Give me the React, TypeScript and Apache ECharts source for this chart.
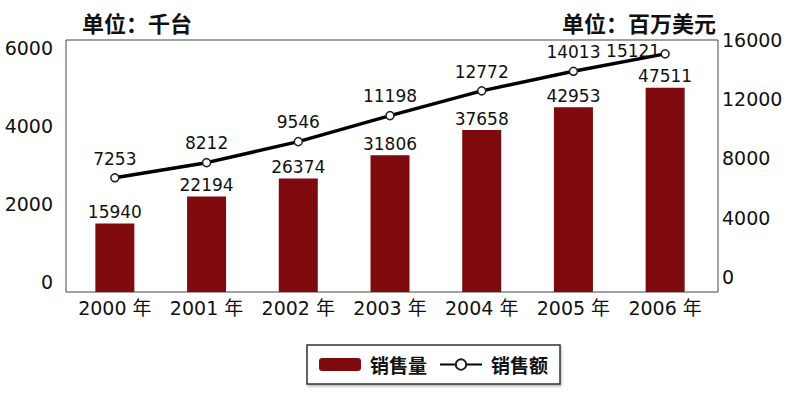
import React, { useEffect, useRef } from "react";
import * as echarts from "echarts";

const categories = ["2000 年", "2001 年", "2002 年", "2003 年", "2004 年", "2005 年", "2006 年"];
const salesVolume = [15940, 22194, 26374, 31806, 37658, 42953, 47511];
const salesAmount = [7253, 8212, 9546, 11198, 12772, 14013, 15121];
const leftTicks = [0, 2000, 4000, 6000];
const rightTicks = [0, 4000, 8000, 12000, 16000];

const NUM_FONT = '"DejaVu Sans", "Noto Sans CJK SC", sans-serif';
const CJK_FONT = '"Noto Sans CJK SC", "DejaVu Sans", sans-serif';

export default function App() {
  const ref = useRef<HTMLDivElement>(null);
  useEffect(() => {
    document.body.style.margin = "0";
    if (!ref.current) return;
    const chart = echarts.init(ref.current, null, { renderer: "svg" });
    const lineData = salesAmount.map((v, i) =>
      i === salesAmount.length - 1 ? { value: v, label: { offset: [-32, 16] } } : v
    );
    const plain = (v: number) => String(v);
    chart.setOption({
      animation: false,
      backgroundColor: "#fff",
      title: [
        {
          text: "单位：千台",
          left: 77,
          top: 6,
          textStyle: { fontFamily: CJK_FONT, fontSize: 22, fontWeight: "bold", color: "#111" },
        },
        {
          text: "单位：百万美元",
          left: 557,
          top: 6,
          textStyle: { fontFamily: CJK_FONT, fontSize: 22, fontWeight: "bold", color: "#111" },
        },
      ],
      legend: {
        left: 307,
        top: 345,
        padding: [10, 12],
        borderColor: "#333",
        borderWidth: 1.5,
        shadowColor: "rgba(0,0,0,0.25)",
        shadowBlur: 2,
        shadowOffsetX: 1,
        shadowOffsetY: 2,
        backgroundColor: "#fff",
        itemWidth: 42,
        itemHeight: 13,
        itemGap: 12,
        textStyle: { fontFamily: CJK_FONT, fontSize: 19, fontWeight: "bold", color: "#111", padding: [0, 0, 0, 4] },
        data: ["销售量", "销售额"],
      },
      grid: [
        { left: 66, right: 82, top: 40, bottom: 101, show: true, borderColor: "#444", borderWidth: 1, backgroundColor: "transparent" },
        { left: 69, right: 89, top: 40, bottom: 101 },
      ],
      xAxis: [
        { type: "category", gridIndex: 0, data: categories, show: false },
        {
          type: "category",
          gridIndex: 1,
          data: categories,
          axisLine: { show: false },
          axisTick: { show: false },
          axisLabel: { interval: 0, margin: 6, fontFamily: NUM_FONT, fontSize: 19, color: "#111" },
        },
      ],
      yAxis: [
        {
          type: "value",
          gridIndex: 0,
          position: "left",
          min: -256,
          max: 6205,
          axisLine: { show: false },
          axisTick: { show: false },
          splitLine: { show: false },
          axisLabel: { customValues: leftTicks, formatter: plain, margin: 13, fontFamily: NUM_FONT, fontSize: 19, color: "#111" },
        },
        {
          type: "value",
          gridIndex: 0,
          position: "right",
          min: -1013,
          max: 16000,
          axisLine: { show: false },
          axisTick: { show: false },
          splitLine: { show: false },
          axisLabel: { customValues: rightTicks, formatter: plain, margin: 4, fontFamily: NUM_FONT, fontSize: 19, color: "#111" },
        },
        { type: "value", gridIndex: 1, min: 0, max: 58600, show: false, splitLine: { show: false } },
        { type: "value", gridIndex: 1, min: 0, max: 16000, show: false, splitLine: { show: false } },
      ],
      series: [
        {
          name: "销售量",
          type: "bar",
          xAxisIndex: 1,
          yAxisIndex: 2,
          data: salesVolume,
          barWidth: 39,
          itemStyle: { color: "#7e0a0e" },
          label: { show: true, position: "top", distance: 3, fontFamily: NUM_FONT, fontSize: 17, color: "#111" },
        },
        {
          name: "销售额",
          type: "line",
          xAxisIndex: 1,
          yAxisIndex: 3,
          data: lineData,
          symbol: "circle",
          symbolSize: 8,
          lineStyle: { color: "#000", width: 3.5 },
          itemStyle: { color: "#fff", borderColor: "#222", borderWidth: 1.5 },
          label: { show: true, position: "top", distance: 6, fontFamily: NUM_FONT, fontSize: 17, color: "#111" },
          z: 3,
        },
      ],
    });
    return () => chart.dispose();
  }, []);
  return <div ref={ref} style={{ width: 800, height: 393 }} />;
}
